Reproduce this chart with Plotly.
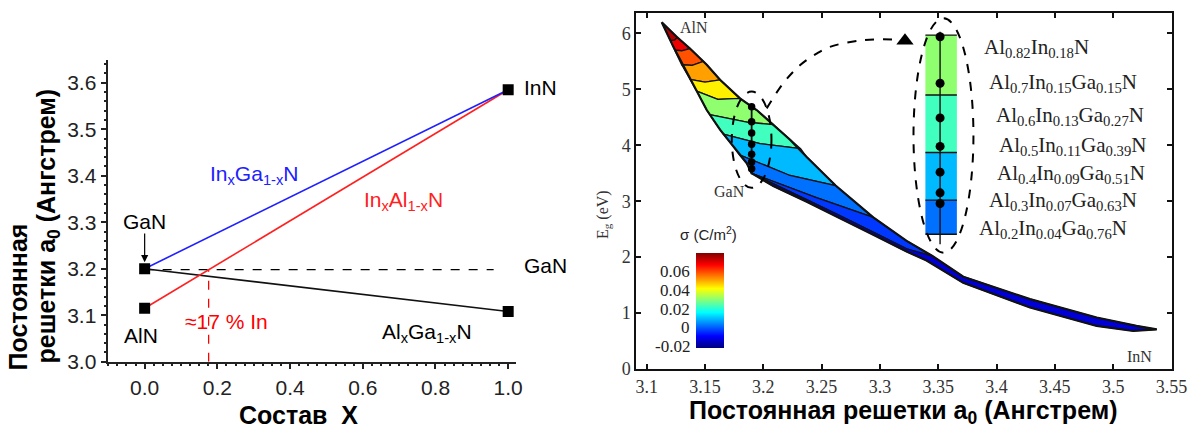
import plotly.graph_objects as go
from plotly.colors import sample_colorscale

W, H = 1199, 429

# ---------------- left chart data ----------------
comp_x = [0.0, 1.0]
ingan_a = [3.20, 3.585]
inaln_a = [3.115, 3.585]
algan_a = [3.20, 3.108]
gan_ref_x = [0.0, 0.96]
gan_ref_a = [3.198, 3.198]
cross_x = [0.176, 0.176]
cross_a = [3.0, 3.198]
pt_x = [0.0, 0.0, 1.0, 1.0]
pt_a = [3.20, 3.115, 3.585, 3.108]
left_xticks = [0.0, 0.2, 0.4, 0.6, 0.8, 1.0]
left_yticks = [3.0, 3.1, 3.2, 3.3, 3.4, 3.5, 3.6]

# ---------------- right chart data ----------------
upper_x = [3.1129, 3.1257, 3.1371, 3.1515, 3.1629, 3.1800, 3.1943, 3.2086, 3.2229, 3.2372,
           3.2620, 3.2943, 3.3229, 3.3450, 3.3715, 3.4287, 3.4859, 3.5200, 3.5374]
upper_y = [6.20, 5.94, 5.73, 5.44, 5.17, 4.84, 4.63, 4.37, 4.10, 3.79,
           3.28, 2.71, 2.29, 2.02, 1.65, 1.25, 0.92, 0.77, 0.71]
lower_x = [3.1129, 3.1229, 3.1314, 3.1414, 3.1515, 3.1629, 3.1743, 3.1858, 3.1900, 3.2086,
           3.2372, 3.2658, 3.2943, 3.3229, 3.3400, 3.3715, 3.4287, 3.4859, 3.5172, 3.5374]
lower_y = [6.20, 5.76, 5.41, 5.02, 4.63, 4.28, 3.98, 3.68, 3.50, 3.27,
           2.99, 2.70, 2.40, 2.10, 1.94, 1.54, 1.10, 0.77, 0.68, 0.71]
# contour lines, each from the lower edge to the upper edge
cont_x = [[3.1205, 3.1240, 3.1262],
          [3.1240, 3.1300, 3.1371],
          [3.1300, 3.1390, 3.1486],
          [3.1371, 3.1500, 3.1629],
          [3.1429, 3.1610, 3.1800],
          [3.1540, 3.1870, 3.2086],
          [3.1657, 3.1972, 3.2320],
          [3.1795, 3.2229, 3.2620],
          [3.1900, 3.2172, 3.2450, 3.2943],
          [3.1900, 3.2086, 3.2372, 3.2658, 3.2943, 3.3229, 3.3450]]
cont_y = [[5.87, 5.88, 5.93],
          [5.70, 5.69, 5.73],
          [5.44, 5.43, 5.50],
          [5.18, 5.13, 5.17],
          [4.97, 4.82, 4.84],
          [4.55, 4.41, 4.37],
          [4.20, 4.03, 3.94],
          [3.83, 3.46, 3.28],
          [3.50, 3.29, 3.07, 2.71],
          [3.50, 3.31, 3.03, 2.745, 2.45, 2.15, 2.02]]
band_sigma = [0.075, 0.069, 0.0594, 0.0515, 0.0436, 0.031, 0.0232, 0.0100, 0.0027, -0.0028, -0.0125]

# inset column
col_x = [3.339, 3.366]
col_edges = [5.97, 4.90, 3.87, 3.02, 2.41]
col_sigma = [0.031, 0.0232, 0.0100, 0.0027]
col_line_x = 3.3516
col_line_y = [6.03, 2.23]
col_dots_y = [5.94, 5.11, 4.49, 3.98, 3.52, 3.15, 2.96]
col_labels = ["Al<sub>0.82</sub>In<sub>0.18</sub>N",
              "Al<sub>0.7</sub>In<sub>0.15</sub>Ga<sub>0.15</sub>N",
              "Al<sub>0.6</sub>In<sub>0.13</sub>Ga<sub>0.27</sub>N",
              "Al<sub>0.5</sub>In<sub>0.11</sub>Ga<sub>0.39</sub>N",
              "Al<sub>0.4</sub>In<sub>0.09</sub>Ga<sub>0.51</sub>N",
              "Al<sub>0.3</sub>In<sub>0.07</sub>Ga<sub>0.63</sub>N",
              "Al<sub>0.2</sub>In<sub>0.04</sub>Ga<sub>0.76</sub>N"]
col_label_x = [3.3873, 3.3919, 3.3979, 3.4004, 3.3987, 3.3919, 3.3833]
col_label_y = [5.74, 5.12, 4.53, 3.99, 3.49, 3.01, 2.51]
# small ellipse dots near GaN
gan_line_x = 3.19
gan_line_y = [4.72, 3.48]
gan_dots_y = [4.69, 4.42, 4.22, 4.02, 3.84, 3.70, 3.58]
# dashed connector
conn_x = [3.2029, 3.2171, 3.2314, 3.2457, 3.2571, 3.2857, 3.3143]
conn_y = [4.66, 5.11, 5.43, 5.64, 5.76, 5.88, 5.89]
tri_x, tri_y = 3.3215, 5.87
right_xticks = [3.1, 3.15, 3.2, 3.25, 3.3, 3.35, 3.4, 3.45, 3.5, 3.55]
right_xtext = ["3.1", "3.15", "3.2", "3.25", "3.3", "3.35", "3.4", "3.45", "3.5", "3.55"]
right_yticks = [0, 1, 2, 3, 4, 5, 6]
cb_ticks = [0.06, 0.04, 0.02, 0, -0.02]
cb_text = ["0.06", "0.04", "0.02", "0", "-0.02"]
cmin, cmax = -0.021, 0.08

jet = [[0, 'rgb(0,0,128)'], [0.125, 'rgb(0,0,255)'], [0.375, 'rgb(0,255,255)'],
       [0.625, 'rgb(255,255,0)'], [0.875, 'rgb(255,0,0)'], [1, 'rgb(128,0,0)']]


def col_of(s):
    t = (s - cmin) / (cmax - cmin)
    return sample_colorscale(jet, [t])[0]


fig = go.Figure()
SANS = "Liberation Sans, Arial"
SERIF = "Liberation Serif, Times New Roman"

# ---------- left chart ----------
fig.add_trace(go.Scatter(x=gan_ref_x, y=gan_ref_a, mode='lines',
                         line=dict(color='black', width=1.3, dash='dash'), xaxis='x', yaxis='y'))
fig.add_trace(go.Scatter(x=cross_x, y=cross_a, mode='lines',
                         line=dict(color='red', width=1.3, dash='dash'), xaxis='x', yaxis='y'))
fig.add_trace(go.Scatter(x=comp_x, y=algan_a, mode='lines', line=dict(color='#111', width=1.6), xaxis='x', yaxis='y'))
fig.add_trace(go.Scatter(x=comp_x, y=inaln_a, mode='lines', line=dict(color='#ff2020', width=1.6), xaxis='x', yaxis='y'))
fig.add_trace(go.Scatter(x=comp_x, y=ingan_a, mode='lines', line=dict(color='#2020ff', width=1.6), xaxis='x', yaxis='y'))
fig.add_trace(go.Scatter(x=pt_x, y=pt_a, mode='markers',
                         marker=dict(symbol='square', size=11, color='black'), xaxis='x', yaxis='y'))

# ---------- right chart: bands ----------
tip = (upper_x[0], upper_y[0])
end = (upper_x[-1], upper_y[-1])
contours = [[tip]] + [list(zip(cx, cy)) for cx, cy in zip(cont_x, cont_y)] + [[end]]

for k in range(len(band_sigma)):
    P, N = contours[k], contours[k + 1]
    pts = list(P)
    pts += [(x, y) for x, y in zip(upper_x, upper_y) if P[-1][0] < x < N[-1][0]]
    pts += list(reversed(N))
    pts += [(x, y) for x, y in reversed(list(zip(lower_x, lower_y))) if P[0][0] < x < N[0][0]]
    pts.append(pts[0])
    fig.add_trace(go.Scatter(x=[p[0] for p in pts], y=[p[1] for p in pts], mode='lines',
                             fill='toself', fillcolor=col_of(band_sigma[k]),
                             line=dict(color='#111', width=1.3), xaxis='x2', yaxis='y2'))
# outer outline of the alloy region
fig.add_trace(go.Scatter(x=upper_x + lower_x[::-1], y=upper_y + lower_y[::-1], mode='lines',
                         line=dict(color='#111', width=2.2), xaxis='x2', yaxis='y2'))

# inset column
for i in range(len(col_sigma)):
    fig.add_trace(go.Scatter(x=[col_x[0], col_x[1], col_x[1], col_x[0], col_x[0]],
                             y=[col_edges[i], col_edges[i], col_edges[i + 1], col_edges[i + 1], col_edges[i]],
                             mode='lines', fill='toself', fillcolor=col_of(col_sigma[i]),
                             line=dict(width=0), xaxis='x2', yaxis='y2'))
hx, hy = [], []
for e in col_edges:
    hx += [col_x[0], col_x[1], None]
    hy += [e, e, None]
fig.add_trace(go.Scatter(x=hx, y=hy, mode='lines', line=dict(color='#111', width=1.4), xaxis='x2', yaxis='y2'))
fig.add_trace(go.Scatter(x=[col_line_x, col_line_x], y=col_line_y, mode='lines',
                         line=dict(color='#111', width=1.4), xaxis='x2', yaxis='y2'))
fig.add_trace(go.Scatter(x=[col_line_x] * len(col_dots_y), y=col_dots_y, mode='markers',
                         marker=dict(size=9, color='black'), xaxis='x2', yaxis='y2'))
fig.add_trace(go.Scatter(x=[gan_line_x, gan_line_x], y=gan_line_y, mode='lines',
                         line=dict(color='#111', width=1.8), xaxis='x2', yaxis='y2'))
fig.add_trace(go.Scatter(x=[gan_line_x] * len(gan_dots_y), y=gan_dots_y, mode='markers',
                         marker=dict(size=7.5, color='black'), xaxis='x2', yaxis='y2'))
fig.add_trace(go.Scatter(x=conn_x, y=conn_y, mode='lines', line=dict(color='black', width=2, dash='dash', shape='spline'),
                         xaxis='x2', yaxis='y2'))
fig.add_trace(go.Scatter(x=[tri_x], y=[tri_y], mode='markers',
                         marker=dict(symbol='triangle-up', size=15, color='black'), xaxis='x2', yaxis='y2'))

# colorbar (dummy trace)
CB_X, CB_TOP, CB_LEN, CB_TH = 696, 252.7, 95, 28
fig.add_trace(go.Scatter(x=[3.4], y=[5.0], mode='markers', xaxis='x2', yaxis='y2',
                         marker=dict(size=0.1, color=[0.0], colorscale=jet, cmin=cmin, cmax=cmax, showscale=True,
                                     colorbar=dict(x=CB_X / W, xanchor='left', y=1 - (CB_TOP + CB_LEN / 2) / H,
                                                   yanchor='middle', len=CB_LEN, lenmode='pixels',
                                                   thickness=CB_TH, thicknessmode='pixels', xpad=0, ypad=0,
                                                   outlinewidth=0, showticklabels=False, ticks=''))))

ann = []
for v, t in zip(cb_ticks, cb_text):
    py = CB_TOP + CB_LEN - (v - cmin) / (cmax - cmin) * CB_LEN
    ann.append(dict(xref='paper', yref='paper', x=(CB_X - 4) / W, y=1 - py / H, text=t, showarrow=False,
                    xanchor='right', yanchor='middle', font=dict(family=SERIF, size=17, color='#222')))
ann.append(dict(xref='paper', yref='paper', x=708 / W, y=1 - 234 / H, text="σ (C/m<sup>2</sup>)", showarrow=False,
                xanchor='center', yanchor='middle', font=dict(family=SANS, size=15, color='#222')))

for t, x, y in zip(col_labels, col_label_x, col_label_y):
    ann.append(dict(xref='x2', yref='y2', x=x, y=y, text=t, showarrow=False, xanchor='left', yanchor='middle',
                    font=dict(family=SERIF, size=21, color='#222')))
for t, x, y in [("AlN", 3.1406, 6.10), ("GaN", 3.1706, 3.17), ("InN", 3.5224, 0.23)]:
    ann.append(dict(xref='x2', yref='y2', x=x, y=y, text=t, showarrow=False, xanchor='center', yanchor='middle',
                    font=dict(family=SERIF, size=16, color='#333')))
ann.append(dict(xref='paper', yref='paper', x=603 / W, y=1 - 215 / H, text="E<sub>g</sub> (eV)", textangle=-90,
                showarrow=False, xanchor='center', yanchor='middle', font=dict(family=SERIF, size=16, color='#333')))
ann.append(dict(xref='paper', yref='paper', x=903 / W, y=1 - 412 / H,
                text="Постоянная решетки a<sub>0</sub> (Ангстрем)", showarrow=False,
                xanchor='center', yanchor='middle', font=dict(family=SANS, size=25, color='black', weight='bold')))

# left annotations (data coordinates inside the axes)
for t, x, y, c in [("GaN", 0.0, 3.301, 'black'), ("AlN", -0.011, 3.057, 'black'),
                   ("≈17 % In", 0.226, 3.086, 'red'),
                   ("In<sub>x</sub>Ga<sub>1-x</sub>N", 0.302, 3.402, '#2020ff'),
                   ("In<sub>x</sub>Al<sub>1-x</sub>N", 0.713, 3.346, '#ff2020'),
                   ("Al<sub>x</sub>Ga<sub>1-x</sub>N", 0.778, 3.062, 'black')]:
    ann.append(dict(xref='x', yref='y', x=x, y=y, text=t, showarrow=False, xanchor='center', yanchor='middle',
                    font=dict(family=SANS, size=21, color=c)))
# labels right of the left axes (paper coordinates)
for t, px, py in [("InN", 522, 87), ("GaN", 522, 265)]:
    ann.append(dict(xref='paper', yref='paper', x=px / W, y=1 - py / H, text=t, showarrow=False,
                    xanchor='left', yanchor='middle', font=dict(family=SANS, size=21, color='black')))
ann.append(dict(xref='x', yref='y', x=0.0, y=3.214, ax=0.0, ay=3.279, axref='x', ayref='y', text='',
                showarrow=True, arrowhead=2, arrowsize=1.2, arrowwidth=1.2, arrowcolor='black'))
ann.append(dict(xref='paper', yref='paper', x=17 / W, y=1 - 373 / H, text="Постоянная", textangle=-90,
                showarrow=False, xanchor='center', yanchor='bottom',
                font=dict(family=SANS, size=25, color='black', weight='bold')))
ann.append(dict(xref='paper', yref='paper', x=47 / W, y=1 - 366 / H, text="решетки a<sub>0</sub> (Ангстрем)",
                textangle=-90, showarrow=False, xanchor='center', yanchor='bottom',
                font=dict(family=SANS, size=25, color='black', weight='bold')))
ann.append(dict(xref='paper', yref='paper', x=298 / W, y=1 - 415 / H, text="Состав\u00a0\u00a0X",
                showarrow=False, xanchor='center', yanchor='middle',
                font=dict(family=SANS, size=25, color='black', weight='bold')))

fig.update_layout(
    width=W, height=H, margin=dict(l=0, r=0, t=0, b=0, autoexpand=False), showlegend=False,
    plot_bgcolor='white', paper_bgcolor='white',
    xaxis=dict(domain=[108.3 / W, 516 / W], range=[-0.1, 1.0215], tickvals=left_xticks, tickformat='.1f',
               showline=True, linecolor='#222', linewidth=1.5, ticks='outside', ticklen=6, tickwidth=1.5,
               tickcolor='#222', showgrid=False, zeroline=False,
               minor=dict(dtick=0.025, ticks='outside', ticklen=3, tickcolor='#222', showgrid=False),
               tickfont=dict(family=SANS, size=21, color='#222'), anchor='y'),
    yaxis=dict(domain=[1 - 361.7 / H, 1 - 60 / H], range=[3.0, 3.649], tickvals=left_yticks, tickformat='.1f',
               showline=True, linecolor='#222', linewidth=1.5, ticks='outside', ticklen=6, tickwidth=1.5,
               tickcolor='#222', showgrid=False, zeroline=False,
               minor=dict(dtick=0.02, ticks='outside', ticklen=3, tickcolor='#222', showgrid=False),
               tickfont=dict(family=SANS, size=21, color='#222'), anchor='x'),
    xaxis2=dict(domain=[636.3 / W, 1171.8 / W], range=[3.0911, 3.5503], tickvals=right_xticks, ticktext=right_xtext,
                showline=True, mirror='ticks', linecolor='#111', linewidth=2, ticks='inside', ticklen=5,
                tickwidth=1.5, tickcolor='#111', showgrid=False, zeroline=False,
                tickfont=dict(family=SERIF, size=18, color='#333'), anchor='y2'),
    yaxis2=dict(domain=[1 - 369 / H, 1 - 13.3 / H], range=[0, 6.36], tickvals=right_yticks,
                showline=True, mirror='ticks', linecolor='#111', linewidth=2, ticks='inside', ticklen=5,
                tickwidth=1.5, tickcolor='#111', showgrid=False, zeroline=False,
                tickfont=dict(family=SERIF, size=18, color='#333'), anchor='x2'),
    annotations=ann,
    shapes=[
        dict(type='circle', xref='x2', yref='y2', x0=3.3288, x1=3.3802, y0=2.08, y1=6.27,
             line=dict(color='black', width=2, dash='dash')),
        dict(type='circle', xref='x2', yref='y2', x0=3.173, x1=3.207, y0=3.24, y1=4.96,
             line=dict(color='black', width=2, dash='dash')),
    ],
)

fig.write_html("out.html")
